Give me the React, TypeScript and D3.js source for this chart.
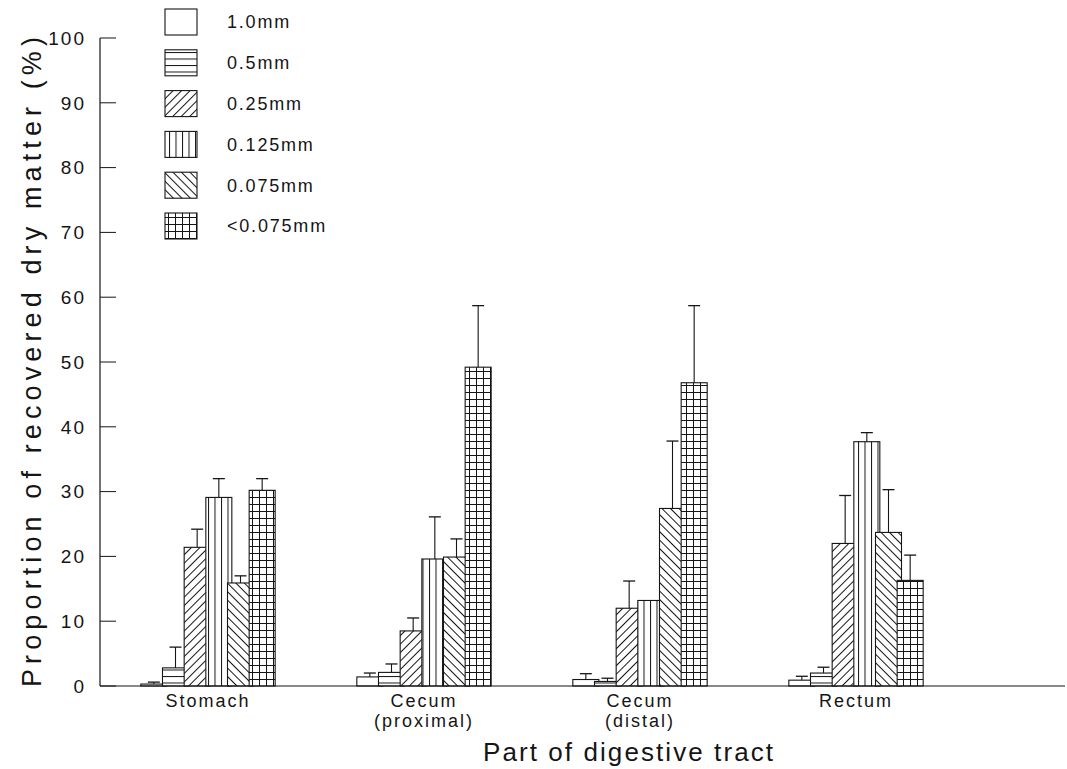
import React from "react";
import * as d3 from "d3";

const categories = ["Stomach", "Cecum (proximal)", "Cecum (distal)", "Rectum"];
const categoryLines = [["Stomach"], ["Cecum", "(proximal)"], ["Cecum", "(distal)"], ["Rectum"]];
const sizes = ["1.0mm", "0.5mm", "0.25mm", "0.125mm", "0.075mm", "<0.075mm"];

const mean_1_0 = [0.3, 1.4, 1.0, 0.9];
const sd_1_0 = [0.3, 0.6, 0.9, 0.6];
const mean_0_5 = [2.8, 2.1, 0.7, 2.0];
const sd_0_5 = [3.2, 1.3, 0.5, 0.9];
const mean_0_25 = [21.4, 8.5, 12.0, 22.0];
const sd_0_25 = [2.8, 2.0, 4.2, 7.4];
const mean_0_125 = [29.1, 19.6, 13.2, 37.7];
const sd_0_125 = [2.9, 6.5, 0, 1.4];
const mean_0_075 = [15.9, 19.9, 27.4, 23.7];
const sd_0_075 = [1.1, 2.8, 10.4, 6.6];
const mean_lt = [30.2, 49.2, 46.8, 16.3];
const sd_lt = [1.8, 9.5, 11.9, 3.9];

const means = [mean_1_0, mean_0_5, mean_0_25, mean_0_125, mean_0_075, mean_lt];
const sds = [sd_1_0, sd_0_5, sd_0_25, sd_0_125, sd_0_075, sd_lt];
const patternIds = ["none", "hz", "fwd", "vt", "bwd", "grid"];

const yTicks = [0, 10, 20, 30, 40, 50, 60, 70, 80, 90, 100];
const yTitle = "Proportion of recovered dry matter (%)";
const xTitle = "Part of digestive tract";

const W = 1067;
const H = 769;
const INK = "#151515";
const FONT = "'Liberation Sans', Arial, sans-serif";

export default function App() {
  const y = d3.scaleLinear().domain([0, 100]).range([686, 38]);
  const x0 = d3.scaleBand<string>().domain(categories).range([100, 964]).padding(0);
  const x1 = d3.scaleBand<string>().domain(sizes).range([-65, 65]).padding(0);
  const barW = 26;
  const axisX = 100;

  const fillFor = (i: number) => (patternIds[i] === "none" ? "#fff" : `url(#${patternIds[i]})`);

  return (
    <svg
      width={W}
      height={H}
      style={{ position: "absolute", left: 0, top: 0, display: "block", background: "#fff" }}
      fontFamily={FONT}
    >
      <defs>
        <pattern id="hz" patternUnits="userSpaceOnUse" width={8} height={6.5}>
          <rect width={8} height={6.5} fill="#fff" />
          <line x1={0} y1={0.5} x2={8} y2={0.5} stroke={INK} strokeWidth={1} />
        </pattern>
        <pattern id="vt" patternUnits="userSpaceOnUse" width={6.5} height={8}>
          <rect width={6.5} height={8} fill="#fff" />
          <line x1={0.5} y1={0} x2={0.5} y2={8} stroke={INK} strokeWidth={1} />
        </pattern>
        <pattern id="fwd" patternUnits="userSpaceOnUse" width={6} height={6} patternTransform="rotate(45)">
          <rect width={6} height={6} fill="#fff" />
          <line x1={0.5} y1={0} x2={0.5} y2={6} stroke={INK} strokeWidth={1} />
        </pattern>
        <pattern id="bwd" patternUnits="userSpaceOnUse" width={6} height={6} patternTransform="rotate(-45)">
          <rect width={6} height={6} fill="#fff" />
          <line x1={0.5} y1={0} x2={0.5} y2={6} stroke={INK} strokeWidth={1} />
        </pattern>
        <pattern id="grid" patternUnits="userSpaceOnUse" width={7} height={7}>
          <rect width={7} height={7} fill="#fff" />
          <line x1={0.5} y1={0} x2={0.5} y2={7} stroke={INK} strokeWidth={1} />
          <line x1={0} y1={0.5} x2={7} y2={0.5} stroke={INK} strokeWidth={1} />
        </pattern>
      </defs>

      {/* Y axis */}
      <line x1={axisX} y1={y(100)} x2={axisX} y2={y(0)} stroke={INK} strokeWidth={1.2} />
      {yTicks.map((t) => (
        <g key={t}>
          <line x1={axisX} y1={y(t)} x2={axisX + 16} y2={y(t)} stroke={INK} strokeWidth={1} />
          <text
            x={86}
            y={y(t)}
            dy="0.36em"
            textAnchor="end"
            fontSize={19}
            letterSpacing={2}
            fill={INK}
          >
            {t}
          </text>
        </g>
      ))}
      <text
        transform={`translate(41, ${(y(0) + y(100)) / 2}) rotate(-90)`}
        textAnchor="middle"
        fontSize={27}
        textLength={650}
        lengthAdjust="spacing"
        fill={INK}
      >
        {yTitle}
      </text>

      {/* Bars */}
      {categories.map((c, ci) => {
        const cx = (x0(c) as number) + x0.bandwidth() / 2;
        return (
          <g key={c}>
            {sizes.map((s, si) => {
              const bx = cx + (x1(s) as number) + x1.bandwidth() / 2;
              const v = means[si][ci];
              return (
                <rect
                  key={s}
                  x={bx - barW / 2}
                  y={y(v)}
                  width={barW}
                  height={y(0) - y(v)}
                  fill={fillFor(si)}
                  stroke={INK}
                  strokeWidth={1.1}
                />
              );
            })}
            {sizes.map((s, si) => {
              const bx = cx + (x1(s) as number) + x1.bandwidth() / 2;
              const v = means[si][ci];
              const e = sds[si][ci];
              if (!e) return null;
              return (
                <g key={s + "e"}>
                  <line x1={bx} y1={y(v)} x2={bx} y2={y(v + e)} stroke={INK} strokeWidth={1.1} />
                  <line x1={bx - 6} y1={y(v + e)} x2={bx + 6} y2={y(v + e)} stroke={INK} strokeWidth={1.3} />
                </g>
              );
            })}
            {categoryLines[ci].map((ln, li) => (
              <text
                key={ln}
                x={cx}
                y={707 + li * 20}
                textAnchor="middle"
                fontSize={18}
                letterSpacing={2}
                fill={INK}
              >
                {ln}
              </text>
            ))}
          </g>
        );
      })}

      {/* Baseline */}
      <line x1={axisX} y1={y(0)} x2={1065} y2={y(0)} stroke={INK} strokeWidth={1.2} />

      <text x={628} y={761} textAnchor="middle" fontSize={26} textLength={290} lengthAdjust="spacing" fill={INK}>
        {xTitle}
      </text>

      {/* Legend */}
      {sizes.map((s, i) => {
        const cy = 22 + i * 40.8;
        return (
          <g key={s}>
            <rect x={165} y={cy - 13} width={32} height={26} fill={fillFor(i)} stroke={INK} strokeWidth={1.1} />
            <text x={227} y={cy} dy="0.36em" fontSize={18} letterSpacing={1.8} fill={INK}>
              {s}
            </text>
          </g>
        );
      })}
    </svg>
  );
}
